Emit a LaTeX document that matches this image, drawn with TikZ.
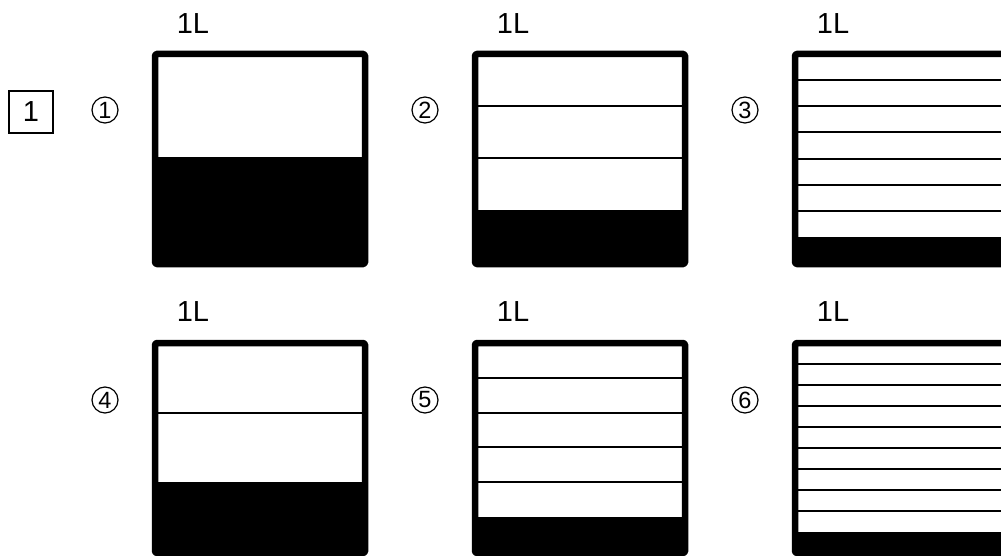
\documentclass[tikz,border=0pt]{standalone}
\usepackage{fontspec}
\setmainfont{Liberation Sans}
\begin{document}
\begin{tikzpicture}[x=1pt,y=-1pt,
  lbl/.style={font=\fontsize{29}{29}\selectfont, inner sep=0pt},
  circnum/.style={draw, circle, line width=1.2pt, minimum size=26pt, inner sep=0pt, font=\fontsize{23.5}{23.5}\selectfont},
  boxnum/.style={draw, line width=2.4pt, minimum width=44pt, minimum height=42pt, inner sep=0pt, font=\fontsize{29}{29}\selectfont},
  vessel/.style={line width=6.5pt, line join=round, rounded corners=1.5pt},
  level/.style={line width=2pt},
  liquid/.style={fill=black}]
\useasboundingbox (0,0) rectangle (1001,556);
% #1 left x (stroke centre), #2 top y, #3 sections, #4 liquid top y
\newcommand{\vesselbox}[4]{%
  \fill[liquid] (#1,#4) rectangle (#1+210,#2+210);
  \pgfmathsetmacro{\stepv}{(#4-#2)/#3}
  \ifnum#3>1
    \foreach \k in {1,...,\numexpr#3-1\relax}{%
      \draw[level] (#1,#2+\k*\stepv) -- (#1+210,#2+\k*\stepv);
    }
  \fi
  \draw[vessel] (#1,#2) rectangle (#1+210,#2+210);
}
\vesselbox{155}{54}{1}{157}
\vesselbox{475}{54}{3}{210}
\vesselbox{795}{54}{7}{237}
\vesselbox{155}{343}{2}{482}
\vesselbox{475}{343}{5}{517}
\vesselbox{795}{343}{9}{532}

\node[boxnum] (b1) at (31,112) {1};

\node[lbl] (l1) at (193,24) {1L};
\node[lbl] (l2) at (513,24) {1L};
\node[lbl] (l3) at (833,24) {1L};
\node[lbl] (l4) at (193,312) {1L};
\node[lbl] (l5) at (513,312) {1L};
\node[lbl] (l6) at (833,312) {1L};

\node[circnum] (c1) at (105,110) {1};
\node[circnum] (c2) at (425,110) {2};
\node[circnum] (c3) at (745,110) {3};
\node[circnum] (c4) at (105,400) {4};
\node[circnum] (c5) at (425,400) {5};
\node[circnum] (c6) at (745,400) {6};
\end{tikzpicture}
\end{document}
